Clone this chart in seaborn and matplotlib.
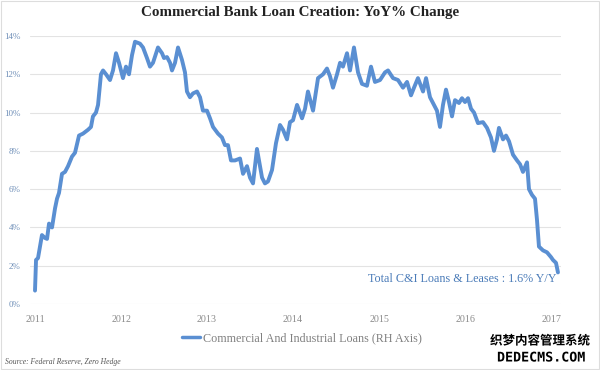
import matplotlib
matplotlib.use("Agg")
import matplotlib.pyplot as plt
import matplotlib.patheffects as pe
from matplotlib.lines import Line2D
from matplotlib.patches import Rectangle
import seaborn as sns
import pandas as pd

# ---- data ----
years = [
    2011.000, 2011.012, 2011.035, 2011.081, 2011.116, 2011.140, 2011.163, 2011.198,
    2011.233, 2011.256, 2011.279, 2011.314, 2011.349, 2011.384, 2011.430, 2011.465,
    2011.512, 2011.558, 2011.616, 2011.651, 2011.674, 2011.709, 2011.733, 2011.767,
    2011.791, 2011.826, 2011.872, 2011.907, 2011.942, 2011.977, 2012.023, 2012.058,
    2012.093, 2012.128, 2012.163, 2012.221, 2012.256, 2012.302, 2012.337, 2012.372,
    2012.430, 2012.477, 2012.500, 2012.535, 2012.570, 2012.593, 2012.628, 2012.663,
    2012.709, 2012.744, 2012.767, 2012.802, 2012.837, 2012.884, 2012.919, 2012.953,
    2013.000, 2013.035, 2013.070, 2013.128, 2013.174, 2013.209, 2013.244, 2013.279,
    2013.326, 2013.384, 2013.419, 2013.465, 2013.500, 2013.535, 2013.581, 2013.605,
    2013.640, 2013.674, 2013.709, 2013.756, 2013.802, 2013.849, 2013.884, 2013.930,
    2013.965, 2014.000, 2014.047, 2014.081, 2014.105, 2014.140, 2014.174, 2014.233,
    2014.291, 2014.349, 2014.395, 2014.430, 2014.465, 2014.512, 2014.547, 2014.581,
    2014.628, 2014.663, 2014.709, 2014.756, 2014.802, 2014.860, 2014.907, 2014.953,
    2015.012, 2015.070, 2015.105, 2015.163, 2015.221, 2015.279, 2015.326, 2015.372,
    2015.407, 2015.453, 2015.512, 2015.547, 2015.593, 2015.628, 2015.674, 2015.709,
    2015.744, 2015.779, 2015.814, 2015.849, 2015.884, 2015.930, 2015.965, 2016.000,
    2016.035, 2016.070, 2016.105, 2016.151, 2016.209, 2016.256, 2016.302, 2016.337,
    2016.372, 2016.395, 2016.442, 2016.477, 2016.512, 2016.558, 2016.605, 2016.640,
    2016.674, 2016.721, 2016.744, 2016.779, 2016.814, 2016.837, 2016.860, 2016.907,
    2016.953, 2017.000, 2017.023, 2017.058, 2017.081,
]
yoy_pct = [
    0.70, 2.30, 2.40, 3.60, 3.45, 3.40, 4.20, 4.00,
    5.00, 5.50, 5.80, 6.80, 6.90, 7.20, 7.70, 7.90,
    8.80, 8.90, 9.10, 9.25, 9.80, 10.00, 10.40, 12.00,
    12.20, 12.00, 11.70, 12.20, 13.10, 12.60, 11.80, 12.40,
    12.00, 13.00, 13.70, 13.60, 13.40, 12.85, 12.40, 12.60,
    13.40, 13.10, 12.85, 12.90, 12.60, 12.20, 12.60, 13.40,
    12.75, 12.10, 11.10, 10.80, 11.00, 11.10, 10.80, 10.10,
    10.10, 9.70, 9.25, 8.90, 8.70, 8.30, 8.30, 7.50,
    7.50, 7.60, 6.80, 7.20, 6.60, 6.30, 8.10, 7.50,
    6.60, 6.30, 6.40, 7.00, 8.40, 9.35, 9.10, 8.60,
    9.50, 9.60, 10.40, 10.00, 9.70, 10.20, 11.10, 10.10,
    11.80, 12.00, 12.30, 11.90, 11.30, 12.00, 12.60, 12.40,
    13.10, 12.20, 13.40, 12.10, 11.50, 11.40, 12.40, 11.60,
    11.70, 12.10, 12.20, 11.80, 11.70, 11.30, 11.60, 10.90,
    11.30, 11.80, 11.10, 11.80, 10.80, 10.50, 10.10, 9.25,
    10.40, 11.20, 10.55, 9.80, 10.65, 10.50, 10.75, 10.55,
    10.75, 10.20, 10.00, 9.45, 9.50, 9.20, 8.70, 8.00,
    8.60, 9.20, 8.60, 8.80, 8.50, 7.80, 7.50, 7.30,
    6.90, 7.40, 6.00, 5.70, 5.50, 4.40, 3.00, 2.80,
    2.70, 2.45, 2.30, 2.15, 1.65,
]
x_ticks = [2011, 2012, 2013, 2014, 2015, 2016, 2017]
y_ticks = [0, 2, 4, 6, 8, 10, 12, 14]
title = "Commercial Bank Loan Creation: YoY% Change"
series_label = "Commercial And Industrial Loans (RH Axis)"
annotation = "Total C&I Loans & Leases : 1.6% Y/Y"
source = "Source: Federal Reserve, Zero Hedge"

df = pd.DataFrame({"year": years, "yoy": yoy_pct})

# ---- style ----
sns.set_style("white")
plt.rcParams["font.family"] = ["Liberation Serif", "DejaVu Serif"]

line_color = "#5a8fd2"
fig = plt.figure(figsize=(6.0, 3.7), dpi=100)
ax = fig.add_axes([30 / 600, 66 / 370, 531 / 600, 268 / 370])

sns.lineplot(data=df, x="year", y="yoy", ax=ax, color=line_color,
             linewidth=2.8, legend=False, clip_on=False)

ax.set_xlim(2011 - 5 / 86, 2011 + 526 / 86)
ax.set_ylim(0, 14)
ax.set_xticks(x_ticks)
ax.set_xticklabels([str(t) for t in x_ticks])
ax.set_yticks(y_ticks)
ax.set_yticklabels([f"{t}%" for t in y_ticks])
ax.set_xlabel("")
ax.set_ylabel("")
ax.grid(axis="y", color="#e3e3e3", linewidth=0.8)
ax.grid(axis="x", visible=False)
for s in ax.spines.values():
    s.set_visible(False)
ax.tick_params(axis="y", length=0, pad=7, labelsize=6.5, labelcolor="#6f8fb8")
ax.tick_params(axis="x", length=0, pad=8, labelsize=7.2, labelcolor="#8a8a8a")

fig.suptitle(title, x=0.5, y=0.985, fontsize=10.8, fontweight="bold", color="#222222")

fig.text(556 / 600, 1 - 279 / 370, annotation, ha="right", va="center",
         fontsize=8.7, color="#4a7bb8")

handle = Line2D([], [], color=line_color, linewidth=2.5)
fig.legend([handle], [series_label], loc="center", bbox_to_anchor=(0.503, 1 - 338 / 370),
           frameon=False, fontsize=8.7, labelcolor="#808080", handlelength=1.5,
           handletextpad=0.25)

fig.text(5 / 600, 1 - 362 / 370, source, ha="left", va="center", fontsize=5.5,
         style="italic", color="#555555")

# watermark seen in the reference
fig.text(540 / 600, 1 - 341 / 370, "织梦内容管理系统", ha="center", va="center",
         fontsize=9, fontweight="bold", color="black",
         family=["Noto Sans CJK SC", "DejaVu Sans"],
         path_effects=[pe.withStroke(linewidth=2, foreground="white")])
fig.text(541 / 600, 1 - 358 / 370, "DEDECMS.COM", ha="center", va="center",
         fontsize=9.6, fontweight="bold", color="black", family=["DejaVu Sans Mono"],
         path_effects=[pe.withStroke(linewidth=2, foreground="white")])

fig.patches.append(Rectangle((0.002, 0.003), 0.996, 0.994, transform=fig.transFigure,
                             fill=False, edgecolor="#dddddd", linewidth=0.8))

fig.savefig("out.png", dpi=100)
